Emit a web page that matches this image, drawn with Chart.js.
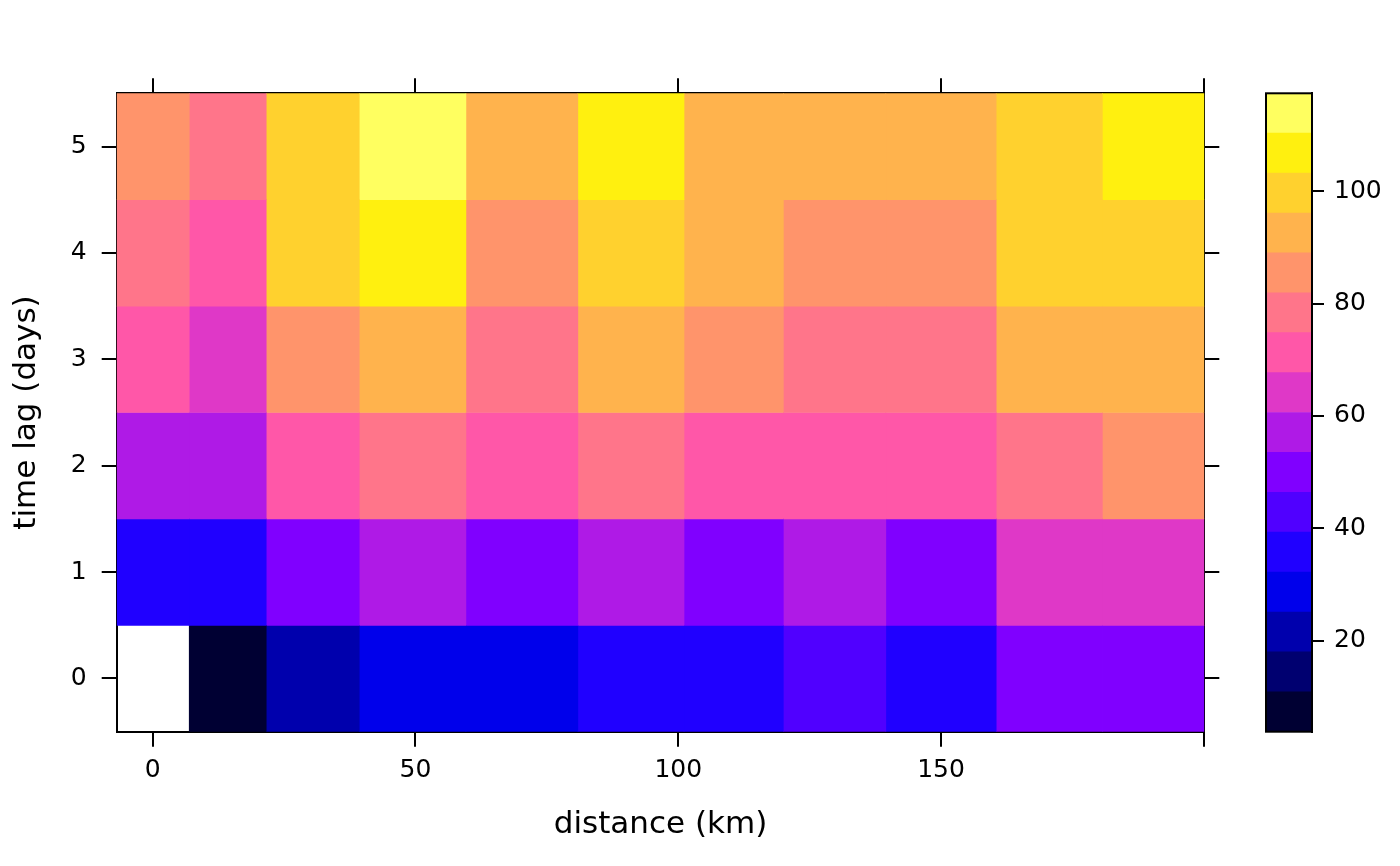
<!DOCTYPE html>
<html>
<head>
<meta charset="utf-8">
<script src="https://cdn.jsdelivr.net/npm/chart.js@4.4.1/dist/chart.umd.min.js"></script>
<style>
html, body { margin: 0; padding: 0; background: #ffffff; }
#wrap { position: relative; width: 1400px; height: 866px; background: #ffffff; }
#main { position: absolute; left: 0; top: 0; }
#key { position: absolute; left: 1250px; top: 0; }
</style>
</head>
<body>
<div id="wrap">
  <canvas id="main" width="1400" height="866"></canvas>
  <canvas id="key" width="150" height="866"></canvas>
</div>
<script>
// ---- data ----
const timeLags = ['0', '1', '2', '3', '4', '5'];
// distance bin edges (km)
const distEdges = [-6.85, 6.95, 21.6, 39.3, 59.6, 80.9, 101.1, 120.0, 139.5, 160.5, 180.7, 200.1];
// semivariance per time lag, one value per distance bin (null = no data)
const gammaLag0 = [null, 10.8, 21.5, 28.9, 30.1, 35.2, 36.8, 41.5, 37.9, 49.6, 51.3];
const gammaLag1 = [34.6, 36.1, 48.7, 57.2, 50.9, 58.4, 52.3, 56.8, 51.2, 63.9, 65.1];
const gammaLag2 = [55.3, 57.6, 70.4, 77.8, 71.9, 78.5, 72.6, 73.1, 73.8, 79.2, 84.6];
const gammaLag3 = [70.9, 64.7, 85.3, 93.1, 78.6, 92.4, 86.2, 79.4, 80.3, 93.8, 94.6];
const gammaLag4 = [78.1, 73.2, 99.5, 106.4, 87.7, 100.3, 92.8, 86.9, 87.5, 100.8, 101.9];
const gammaLag5 = [84.2, 79.9, 101.6, 110.45, 94.7, 107.3, 95.1, 95.8, 94.2, 99.8, 106.9];
const gammaByLag = [gammaLag0, gammaLag1, gammaLag2, gammaLag3, gammaLag4, gammaLag5];
// colour key
const colorBreaks = [3.82, 10.92, 18.02, 25.12, 32.22, 39.32, 46.42, 53.52, 60.62, 67.72, 74.82, 81.92, 89.02, 96.12, 103.22, 110.32, 117.42];
const palette = ['#000033', '#000070', '#0000AD', '#0000EB', '#2000FF', '#5000FF', '#8000FF', '#AF1AE6',
                 '#DF38C7', '#FF57A8', '#FF758A', '#FF946B', '#FFB34D', '#FFD12E', '#FFF00F', '#FFFF60'];
const xTicks = [0, 50, 100, 150, 200];
const xTickLabels = ['0', '50', '100', '150', ''];
const keyTicks = [20, 40, 60, 80, 100];
const xTitle = 'distance (km)';
const yTitle = 'time lag (days)';

// ---- helpers ----
Chart.defaults.font.family = "'DejaVu Sans', sans-serif";
Chart.defaults.color = '#000000';

function colorFor(v) {
  if (v === null || v === undefined) return 'rgba(0,0,0,0)';
  for (let k = 0; k < palette.length; k++) {
    if (v >= colorBreaks[k] && v < colorBreaks[k + 1]) return palette[k];
  }
  return palette[palette.length - 1];
}

const LINE = 2;
const TICKLEN = 15;
const axisGrid = {
  drawOnChartArea: false, drawTicks: true, tickLength: TICKLEN,
  lineWidth: LINE, tickWidth: LINE, tickColor: '#000000', color: '#000000', offset: false
};
const axisBorder = { display: true, color: '#000000', width: LINE };

// ---- heat map ----
const heatDatasets = [];
for (let j = 0; j < distEdges.length - 1; j++) {
  heatDatasets.push({
    label: 'bin' + j,
    data: timeLags.map((_, i) => gammaByLag[i][j] === null ? null : [distEdges[j], distEdges[j + 1]]),
    backgroundColor: timeLags.map((_, i) => colorFor(gammaByLag[i][j])),
    borderWidth: 0,
    grouped: false,
    barPercentage: 1,
    categoryPercentage: 1
  });
}

const setXTicks = s => { s.ticks = xTicks.map(v => ({ value: v })); };

new Chart(document.getElementById('main'), {
  type: 'bar',
  data: { labels: timeLags, datasets: heatDatasets },
  options: {
    indexAxis: 'y',
    responsive: false,
    animation: false,
    devicePixelRatio: 1,
    layout: { padding: 0 },
    plugins: { legend: { display: false }, tooltip: { enabled: false } },
    scales: {
      x: {
        type: 'linear', position: 'bottom',
        min: distEdges[0], max: distEdges[distEdges.length - 1],
        afterBuildTicks: setXTicks,
        ticks: {
          callback: v => { const i = xTicks.indexOf(v); return i >= 0 ? xTickLabels[i] : ''; },
          font: { size: 25 }, color: '#000000', padding: 9, maxRotation: 0, autoSkip: false
        },
        grid: axisGrid, border: axisBorder,
        title: { display: true, text: xTitle, font: { size: 31 }, color: '#000000', padding: { top: 0, bottom: 22 } },
        afterFit: s => { s.height = 134.3; }
      },
      x2: {
        type: 'linear', position: 'top', axis: 'x',
        min: distEdges[0], max: distEdges[distEdges.length - 1],
        afterBuildTicks: setXTicks,
        ticks: { display: false },
        grid: axisGrid, border: axisBorder,
        afterFit: s => { s.height = 93.3; }
      },
      y: {
        type: 'category', position: 'left', reverse: true, offset: true,
        ticks: { font: { size: 25 }, color: '#000000', padding: 15 },
        grid: axisGrid, border: axisBorder,
        title: { display: true, text: yTitle, font: { size: 31 }, color: '#000000', padding: { top: 8, bottom: 0 } },
        afterFit: s => { s.width = 116.7; }
      },
      y2: {
        type: 'category', position: 'right', axis: 'y', reverse: true, offset: true,
        ticks: { display: false },
        grid: axisGrid, border: axisBorder,
        afterFit: s => { s.width = 195.7; }
      }
    }
  }
});

// ---- colour key ----
const framePlugin = {
  id: 'frame',
  afterDraw(chart) {
    const a = chart.chartArea, ctx = chart.ctx;
    ctx.save();
    ctx.strokeStyle = '#000000';
    ctx.lineWidth = LINE;
    ctx.strokeRect(a.left, a.top, a.right - a.left, a.bottom - a.top);
    ctx.restore();
  }
};

new Chart(document.getElementById('key'), {
  type: 'bar',
  data: {
    labels: [''],
    datasets: palette.map((c, k) => ({
      label: 'level' + k,
      data: [[colorBreaks[k], colorBreaks[k + 1]]],
      backgroundColor: c,
      borderWidth: 0,
      grouped: false,
      barPercentage: 1,
      categoryPercentage: 1
    }))
  },
  options: {
    responsive: false,
    animation: false,
    devicePixelRatio: 1,
    layout: { padding: { left: 16, top: 93.3, bottom: 134.3, right: 0 } },
    plugins: { legend: { display: false }, tooltip: { enabled: false } },
    scales: {
      x: { display: false, offset: true },
      y: {
        type: 'linear', position: 'right',
        min: colorBreaks[0], max: colorBreaks[colorBreaks.length - 1],
        afterBuildTicks: s => { s.ticks = keyTicks.map(v => ({ value: v })); },
        ticks: { font: { size: 25 }, color: '#000000', padding: 10 },
        grid: { drawOnChartArea: false, drawTicks: true, tickLength: 12, lineWidth: LINE, tickWidth: LINE, tickColor: '#000000' },
        border: axisBorder,
        afterFit: s => { s.width = 88; }
      }
    }
  },
  plugins: [framePlugin]
});
</script>
</body>
</html>
